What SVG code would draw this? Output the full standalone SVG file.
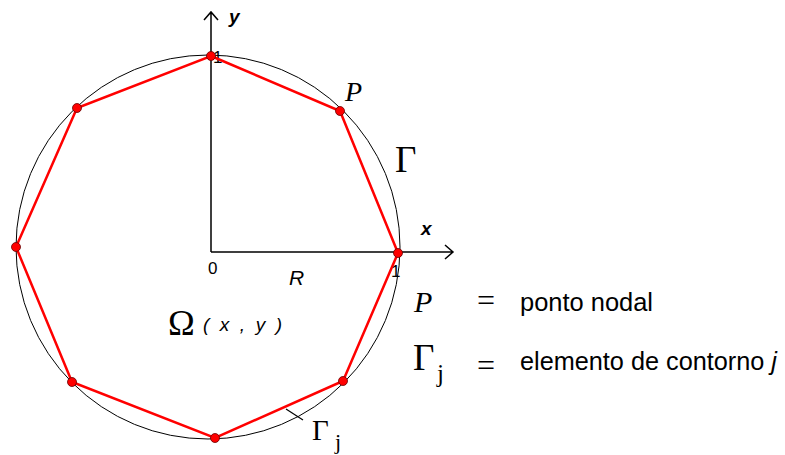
<svg xmlns="http://www.w3.org/2000/svg" width="785" height="455" viewBox="0 0 785 455">
<style>
.ax{stroke:#000;stroke-width:1.5;fill:none}
.circ{stroke:#000;stroke-width:1;fill:none}
.poly{stroke:#f00;stroke-width:2.5;fill:none}
.node{fill:#f00;stroke:#600;stroke-width:0.8}
.sans{font-family:"Liberation Sans",Arial,sans-serif;fill:#000}
.serif{font-family:"Liberation Serif","Times New Roman",serif;fill:#000}
</style>
<rect width="785" height="455" fill="#fff"/>
<g id="circle"><circle class="circ" cx="208" cy="247" r="192"/></g>
<g id="axes">
<path class="ax" d="M211 252V12M204 20L211 12L218 20"/>
<path class="ax" d="M211 252H453M445 245L453 252L445 259"/>
<text class="sans" x="229" y="23" font-size="19" font-weight="bold" font-style="italic">y</text>
<text class="sans" x="421" y="235" font-size="19" font-weight="bold" font-style="italic">x</text>
<text class="sans" x="208" y="274" font-size="17">0</text>
<text class="sans" x="213" y="63" font-size="17">1</text>
<text class="sans" x="391" y="277" font-size="17">1</text>
<text class="sans" x="289" y="285" font-size="21" font-style="italic">R</text>
</g>
<g id="connectors">
<polygon class="poly" points="211,56 340,111 398,253 343,381 215,438 72,382 16,247 77,108"/>
<line x1="286" y1="409" x2="303" y2="420" stroke="#000" stroke-width="1.2"/>
</g>
<g id="nodes">
<circle id="n1" class="node" cx="211" cy="56" r="4.5"/>
<circle id="n2" class="node" cx="340" cy="111" r="4.5"/>
<circle id="n3" class="node" cx="398" cy="253" r="4.5"/>
<circle id="n4" class="node" cx="343" cy="381" r="4.5"/>
<circle id="n5" class="node" cx="215" cy="438" r="4.5"/>
<circle id="n6" class="node" cx="72" cy="382" r="4.5"/>
<circle id="n7" class="node" cx="16" cy="247" r="4.5"/>
<circle id="n8" class="node" cx="77" cy="108" r="4.5"/>
</g>
<g id="labels">
<text class="serif" x="345" y="101" font-size="28" font-style="italic">P</text>
<text class="serif" x="395" y="172" font-size="37">Γ</text>
<text class="serif" x="168" y="335" font-size="36">Ω</text>
<text class="sans" x="203" y="331" font-size="19" font-style="italic" textLength="79" lengthAdjust="spacing">( x , y )</text>
<text class="serif" x="312" y="440" font-size="29">Γ</text>
<text class="serif" x="335" y="449" font-size="22">j</text>
</g>
<g id="legend">
<text class="serif" x="414" y="312" font-size="30" font-style="italic">P</text>
<text class="serif" x="477" y="311" font-size="32">=</text>
<text class="sans" x="520" y="311" font-size="25" textLength="133" lengthAdjust="spacingAndGlyphs">ponto nodal</text>
<text class="serif" x="413" y="370" font-size="37">Γ</text>
<text class="serif" x="437" y="382" font-size="25">j</text>
<text class="serif" x="477" y="376" font-size="32">=</text>
<text class="sans" x="520" y="370" font-size="25" textLength="257" lengthAdjust="spacingAndGlyphs">elemento de contorno <tspan font-style="italic">j</tspan></text>
</g>
</svg>
